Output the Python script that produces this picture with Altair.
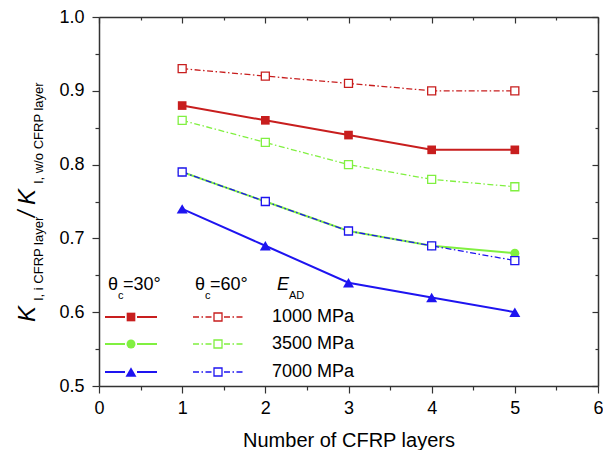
import altair as alt
import pandas as pd

# ---------------- data ----------------
layers_n = [1, 2, 3, 4, 5]
r30_1000 = [0.88, 0.86, 0.84, 0.82, 0.82]
r30_3500 = [0.79, 0.75, 0.71, 0.69, 0.68]
r30_7000 = [0.74, 0.69, 0.64, 0.62, 0.60]
r60_1000 = [0.93, 0.92, 0.91, 0.90, 0.90]
r60_3500 = [0.86, 0.83, 0.80, 0.78, 0.77]
r60_7000 = [0.79, 0.75, 0.71, 0.69, 0.67]

x_ticks = [0, 1, 2, 3, 4, 5, 6]
x_minor = [0.5, 1.5, 2.5, 3.5, 4.5, 5.5]
y_ticks = [0.5, 0.6, 0.7, 0.8, 0.9, 1.0]
y_minor = [0.55, 0.65, 0.75, 0.85, 0.95]
legend_labels = ["1000 MPa", "3500 MPa", "7000 MPa"]

# ---------------- style ----------------
FONT = "Arial, Liberation Sans, sans-serif"
W, H = 499, 369
RED, GREEN, BLUE = "#C81E1E", "#80F040", "#1E14F0"
AXC = "#333333"
DASHDOT = [6, 2.5, 1.5, 2.5]

xs = alt.Scale(domain=[0, 6], nice=False, zero=False)
ys = alt.Scale(domain=[0.5, 1.0], nice=False, zero=False)

one = pd.DataFrame({"a": [0]})


def df_of(vals):
    return pd.DataFrame({"n": layers_n, "k": vals})


def enc(xaxis=None, yaxis=None):
    return dict(
        x=alt.X("n:Q", scale=xs, axis=xaxis),
        y=alt.Y("k:Q", scale=ys, axis=yaxis),
    )


def series(vals, color, dashed, shape, filled, size):
    d = df_of(vals)
    if dashed:
        line = alt.Chart(d).mark_line(color=color, strokeWidth=1.3, strokeDash=DASHDOT).encode(**enc())
    else:
        line = alt.Chart(d).mark_line(color=color, strokeWidth=2).encode(**enc())
    if filled:
        pts = alt.Chart(d).mark_point(shape=shape, filled=True, fill=color, strokeWidth=0,
                                      size=size, opacity=1).encode(**enc())
    else:
        pts = alt.Chart(d).mark_point(shape=shape, filled=True, fill="white", stroke=color,
                                      strokeWidth=1.3, size=size, opacity=1).encode(**enc())
    return [line, pts]


common_axis = dict(grid=False, tickColor=AXC, domainColor=AXC, tickWidth=1.2, domainWidth=1.5)

main_axes = alt.Chart(df_of(r30_1000)).mark_point(opacity=0).encode(**enc(
    alt.Axis(values=x_ticks, orient="bottom", title="Number of CFRP layers", format="d",
             titleFont=FONT, titleFontSize=20, titleFontWeight="normal", titleColor="black",
             titlePadding=13, labelFont=FONT, labelFontSize=18, labelColor="black",
             labelPadding=6, tickSize=7, labelFlush=False, **common_axis),
    alt.Axis(values=y_ticks, orient="left", title=None, format=".1f",
             labelFont=FONT, labelFontSize=18, labelColor="black",
             labelPadding=8, tickSize=7, labelFlush=False, **common_axis),
))
minor_axes = alt.Chart(df_of(r30_1000)).mark_point(opacity=0).encode(**enc(
    alt.Axis(values=x_minor, orient="bottom", title=None, labels=False, domain=False,
             tickSize=4, grid=False, tickColor=AXC, tickWidth=1.2),
    alt.Axis(values=y_minor, orient="left", title=None, labels=False, domain=False,
             tickSize=4, grid=False, tickColor=AXC, tickWidth=1.2),
))
far_axes = alt.Chart(df_of(r30_1000)).mark_point(opacity=0).encode(**enc(
    alt.Axis(values=x_ticks, orient="bottom", offset=-H, title=None, labels=False,
             tickSize=6, **common_axis),
    alt.Axis(values=y_ticks, orient="left", offset=-W, title=None, labels=False,
             tickSize=6, **common_axis),
))
far_minor = alt.Chart(df_of(r30_1000)).mark_point(opacity=0).encode(**enc(
    alt.Axis(values=x_minor, orient="bottom", offset=-H, title=None, labels=False, domain=False,
             tickSize=3, grid=False, tickColor=AXC, tickWidth=1.2),
    alt.Axis(values=y_minor, orient="left", offset=-W, title=None, labels=False, domain=False,
             tickSize=3, grid=False, tickColor=AXC, tickWidth=1.2),
))

layers = [main_axes, minor_axes, far_axes, far_minor]
# draw order: red dash, green dash, red solid, blue solid, green solid, blue dash
layers += series(r60_1000, RED, True, "square", False, 64)
layers += series(r60_3500, GREEN, True, "square", False, 64)
layers += series(r30_1000, RED, False, "square", True, 75)
layers += series(r30_7000, BLUE, False, "triangle-up", True, 120)
layers += series(r30_3500, GREEN, False, "circle", True, 80)
layers += series(r60_7000, BLUE, True, "square", False, 64)


def txt(text, x, y, size, italic=False, angle=0, baseline="alphabetic"):
    kw = dict(text=text, font=FONT, fontSize=size, color="black", align="left", baseline=baseline)
    if italic:
        kw["fontStyle"] = "italic"
    if angle:
        kw["angle"] = angle
    return alt.Chart(one).mark_text(**kw).encode(x=alt.value(x), y=alt.value(y))


# y-axis title (rotated, rich text); coordinates relative to the plot's top-left
layers += [
    txt("K", -64, 305, 24, italic=True, angle=270),
    txt("I, i CFRP layer", -56, 284, 13, angle=270),
    txt("/", -64, 200, 23, italic=True, angle=270),
    txt("K", -64, 188, 24, italic=True, angle=270),
    txt("I, w/o CFRP layer", -56, 167, 13, angle=270),
]

# legend headers
HY, SY = 273, 282
layers += [
    txt("θ", 9, HY, 18), txt("c", 19, SY, 11), txt("=30°", 24, HY, 18),
    txt("θ", 96, HY, 18), txt("c", 106, SY, 11), txt("=60°", 111, HY, 18),
    txt("E", 178, HY, 18, italic=True), txt("AD", 190, SY, 11),
]

# legend rows
row_y = [300, 327, 355]
row_colors = [RED, GREEN, BLUE]
row_shapes = [("square", 75), ("circle", 80), ("triangle-up", 120)]
for yy, col, (shp, sz), lab in zip(row_y, row_colors, row_shapes, legend_labels):
    for x1, x2 in [(6, 26), (38, 58)]:
        layers.append(alt.Chart(one).mark_rule(color=col, strokeWidth=2).encode(
            x=alt.value(x1), x2=alt.value(x2), y=alt.value(yy)))
    layers.append(alt.Chart(one).mark_point(shape=shp, filled=True, fill=col, strokeWidth=0,
                                            size=sz, opacity=1).encode(x=alt.value(32), y=alt.value(yy)))
    for x1, x2 in [(94, 113), (125, 144)]:
        layers.append(alt.Chart(one).mark_rule(color=col, strokeWidth=1.3, strokeDash=DASHDOT).encode(
            x=alt.value(x1), x2=alt.value(x2), y=alt.value(yy)))
    layers.append(alt.Chart(one).mark_point(shape="square", filled=True, fill="white", stroke=col,
                                            strokeWidth=1.3, size=64, opacity=1).encode(
        x=alt.value(119), y=alt.value(yy)))
    layers.append(txt(lab, 173, yy, 18, baseline="middle"))

chart = alt.layer(*layers).resolve_axis(x="independent", y="independent").properties(
    width=W, height=H,
    autosize=alt.AutoSizeParams(type="none"),
    padding={"left": 91, "top": 9, "right": 5, "bottom": 64},
).configure_view(stroke=None)

chart.save("out.html", embed_options={"renderer": "svg", "actions": False})
